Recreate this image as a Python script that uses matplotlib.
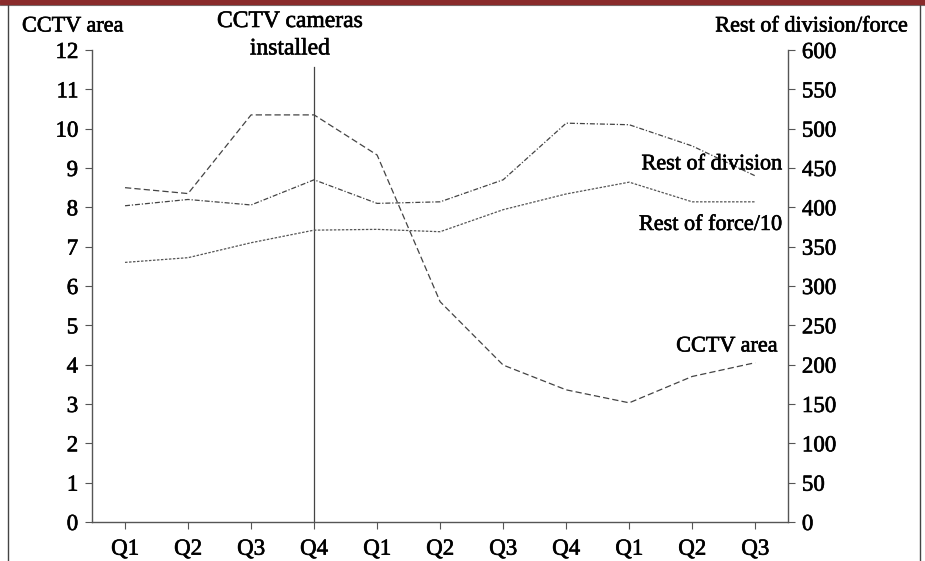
import matplotlib
matplotlib.use("Agg")
import matplotlib.pyplot as plt
import matplotlib.patheffects as pe
from matplotlib.patches import Rectangle
from matplotlib.lines import Line2D

# quarters (two and a bit years)
quarters = ['Q1', 'Q2', 'Q3', 'Q4', 'Q1', 'Q2', 'Q3', 'Q4', 'Q1', 'Q2', 'Q3']

# CCTV area, left axis
cctv_area = [8.50, 8.35, 10.35, 10.35, 9.33, 5.60, 3.99, 3.36, 3.03, 3.70, 4.05]
# rest of division / rest of force/10, right axis
rest_division = [402, 410, 403, 435, 405, 407, 435, 507, 505, 478, 440]
rest_force10 = [330, 336, 355, 371, 372, 369, 397, 417, 432, 407, 407]

left_ticks = list(range(0, 13))
right_ticks = list(range(0, 601, 50))
install_q = 3  # Q4 of first year

plt.rcParams['font.family'] = ['Liberation Serif', 'DejaVu Serif']
heavy = [pe.withStroke(linewidth=0.45, foreground='black')]

fig = plt.figure(figsize=(9.25, 5.61), dpi=100)

# frame round the figure
fig.patches.append(Rectangle((0, 1 - 4 / 561), 1, 4 / 561, transform=fig.transFigure,
                             color='#8a2b2b', zorder=5))
fig.lines.append(Line2D([0, 1], [1 - 4.5 / 561] * 2, transform=fig.transFigure, color='#777777', lw=0.8))
fig.lines.append(Line2D([7.5 / 925] * 2, [0, 1], transform=fig.transFigure, color='#444444', lw=1.0))
fig.lines.append(Line2D([920 / 925] * 2, [0, 1], transform=fig.transFigure, color='#444444', lw=1.0))

ax = fig.add_axes([92 / 925, 1 - 522 / 561, 696 / 925, 472 / 561])
ax2 = ax.twinx()

xs = list(range(len(quarters)))
ax.plot(xs, cctv_area, color='#444444', lw=0.9, ls=(0, (5, 2.5)))
ax2.plot(xs, rest_division, color='#444444', lw=0.9, ls=(0, (4, 1.5, 1, 1.5)))
ax2.plot(xs, rest_force10, color='#555555', lw=0.9, ls=(0, (2, 1.2)))

ax.set_xlim(-0.524, 10.52)
ax.set_ylim(0, 12)
ax2.set_ylim(0, 600)
ax.set_xticks(xs)
ax.set_xticklabels(quarters)
ax.set_yticks(left_ticks)
ax2.set_yticks(right_ticks)

for a in (ax, ax2):
    a.spines['top'].set_visible(False)
    for s in a.spines.values():
        s.set_color('#555555')
        s.set_linewidth(1.0)
    a.tick_params(length=5, width=0.8, color='#555555', labelsize=16.5, pad=5)
ax.tick_params(axis='x', pad=7)
ax.spines['right'].set_visible(False)
ax2.spines['left'].set_visible(False)
ax2.spines['bottom'].set_visible(False)
for lab in ax.get_xticklabels() + ax.get_yticklabels() + ax2.get_yticklabels():
    lab.set_path_effects(heavy)

# installation marker
ax.plot([install_q, install_q], [0, 11.57], color='#444444', lw=0.9)
fig.text(290 / 925, 1 - 11 / 561, 'CCTV cameras\ninstalled', ha='center', va='top',
         fontsize=17, linespacing=1.4, path_effects=heavy)

# axis titles
fig.text(22 / 925, 1 - 27 / 561, 'CCTV area', ha='left', va='center', fontsize=16,
         path_effects=heavy)
fig.text(908 / 925, 1 - 27 / 561, 'Rest of division/force', ha='right', va='center',
         fontsize=16, path_effects=heavy)

# line labels
ax2.text(10.43, 454, 'Rest of division', ha='right', va='center', fontsize=16, path_effects=heavy)
ax2.text(10.43, 377, 'Rest of force/10', ha='right', va='center', fontsize=16, path_effects=heavy)
ax.text(10.36, 4.45, 'CCTV area', ha='right', va='center', fontsize=16, path_effects=heavy)

fig.savefig('out.png', dpi=100)
